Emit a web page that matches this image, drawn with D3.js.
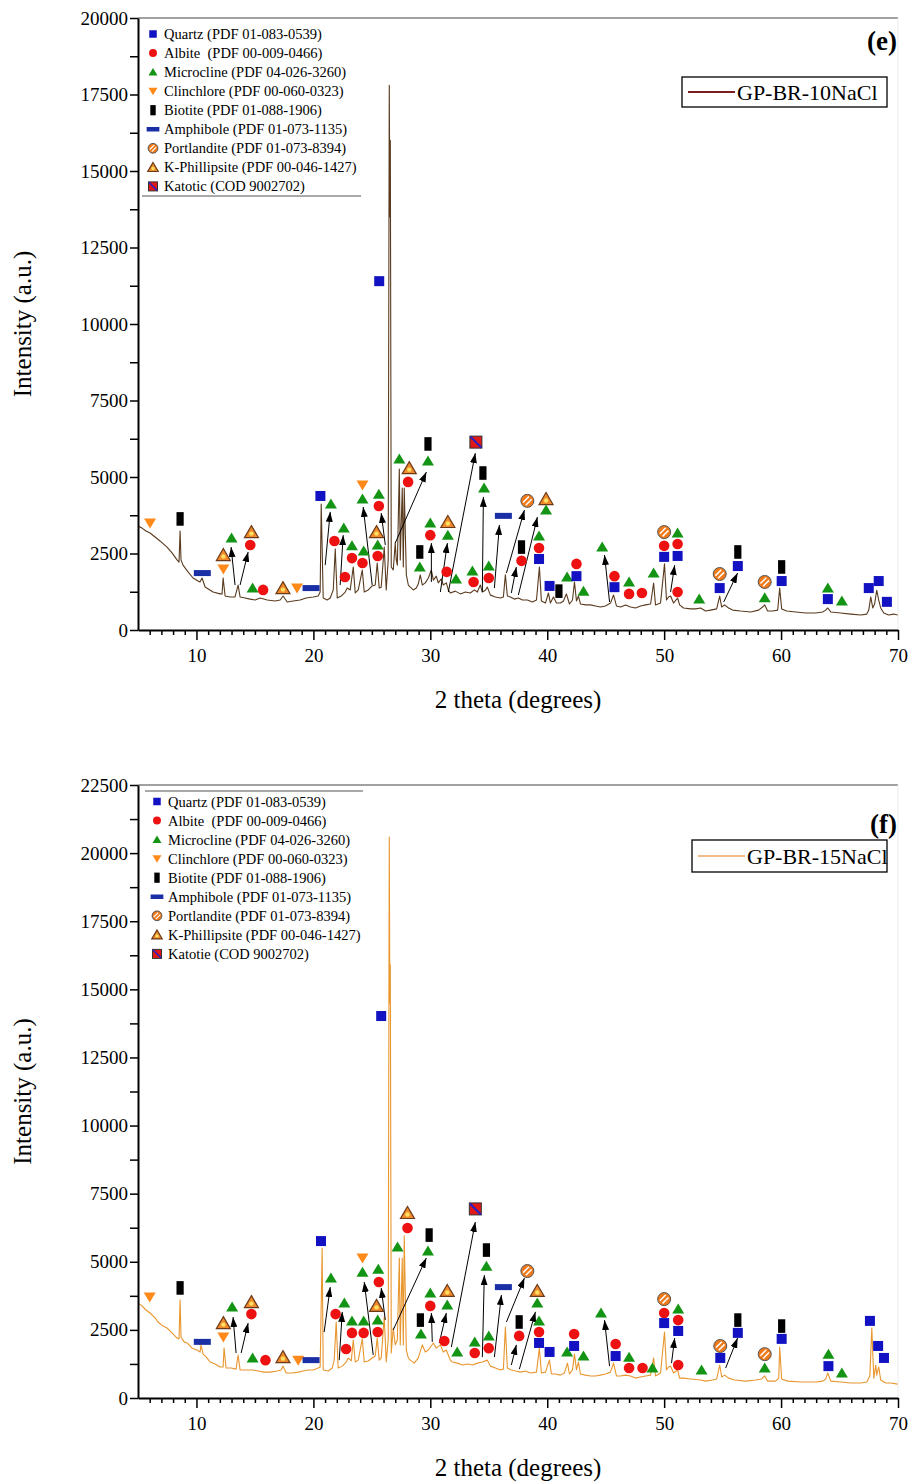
<!DOCTYPE html>
<html>
<head>
<meta charset="utf-8">
<script src="https://cdn.jsdelivr.net/npm/d3@7"></script>
<style>
  body { margin: 0; background: #fff; }
  svg { font-family: "Liberation Serif", "Times New Roman", serif; }
</style>
</head>
<body>
<div id="container"></div>
<script>
/* DATA */
const phaseKeys = ["quartz", "albite", "microcline", "clinochlore", "biotite", "amphibole", "portlandite", "kphillipsite", "katotie"];
const legendE = ["Quartz (PDF 01-083-0539)", "Albite  (PDF 00-009-0466)", "Microcline (PDF 04-026-3260)", "Clinchlore (PDF 00-060-0323)",
  "Biotite (PDF 01-088-1906)", "Amphibole (PDF 01-073-1135)", "Portlandite (PDF 01-073-8394)", "K-Phillipsite (PDF 00-046-1427)", "Katotic (COD 9002702)"];
const legendF = ["Quartz (PDF 01-083-0539)", "Albite  (PDF 00-009-0466)", "Microcline (PDF 04-026-3260)", "Clinchlore (PDF 00-060-0323)",
  "Biotite (PDF 01-088-1906)", "Amphibole (PDF 01-073-1135)", "Portlandite (PDF 01-073-8394)", "K-Phillipsite (PDF 00-046-1427)", "Katotie (COD 9002702)"];

const xTicks = [10, 20, 30, 40, 50, 60, 70];
const yTicksE = [0, 2500, 5000, 7500, 10000, 12500, 15000, 17500, 20000];
const yTicksF = [0, 2500, 5000, 7500, 10000, 12500, 15000, 17500, 20000, 22500];

// GP-BR-10NaCl pattern [2theta, intensity]
const patternE = [
  [5.0,3400],[5.34,3330],[5.68,3235],[6.03,3170],[6.46,3040],[6.88,2910],[7.48,2710],[7.91,2520],[8.34,2290],[8.51,2220],
  [8.6,3235],[8.68,2290],[8.85,2120],[9.28,1900],[9.71,1700],[10.14,1600],[10.3,1570],[10.48,1700],[10.74,1405],[11.42,1240],
  [12.02,1180],[12.19,1180],[12.28,1700],[12.45,1110],[12.88,1080],[13.3,1080],[13.56,1470],[13.73,1080],[14.16,1045],[14.59,1010],
  [15.02,980],[15.45,1045],[16.05,980],[16.73,950],[17.16,980],[17.41,1110],[17.76,915],[18.27,950],[18.87,980],[19.38,1045],
  [19.98,1080],[20.41,1110],[20.58,1240],[20.67,4120],[20.84,1045],[21.18,980],[21.44,1045],[21.7,1310],[21.87,2650],[22.04,1045],
  [22.38,1110],[22.72,1240],[22.9,1370],[23.15,1310],[23.41,2060],[23.58,1210],[23.84,1310],[24.18,1960],[24.35,1240],[24.69,1310],
  [25.03,1440],[25.29,1470],[25.46,2190],[25.63,1370],[25.8,1400],[26.06,2710],[26.23,1310],[26.4,2290],[26.49,17800],[26.54,13500],
  [26.58,16000],[26.66,2060],[26.83,1960],[27.0,2840],[27.09,2290],[27.18,2120],[27.35,5260],[27.43,2290],[27.6,4640],[27.69,2060],
  [27.77,4640],[27.95,1800],[28.12,1470],[28.29,1400],[28.55,1310],[28.8,1370],[28.97,1500],[29.14,1800],[29.32,1470],[29.57,1540],
  [29.83,1700],[30.09,1960],[30.26,1630],[30.51,1760],[30.68,1540],[30.94,1670],[31.11,1470],[31.37,1540],[31.54,1310],[31.71,1210],
  [32.14,1270],[32.57,1180],[33.0,1240],[33.42,1210],[33.77,1310],[34.02,1240],[34.28,1470],[34.45,1240],[34.71,1300],[34.88,1400],
  [35.14,1140],[35.57,1080],[36.0,1045],[36.25,1080],[36.42,1800],[36.59,1110],[36.85,1080],[37.19,1010],[37.53,1045],[37.88,980],
  [38.3,980],[38.73,915],[39.08,980],[39.33,2060],[39.5,950],[39.85,880],[40.1,1210],[40.27,880],[40.53,1080],[40.79,880],
  [41.13,880],[41.39,950],[41.64,1180],[41.9,850],[42.16,980],[42.33,1570],[42.5,950],[42.67,1110],[42.84,850],[43.27,820],
  [43.7,820],[44.13,785],[44.55,750],[44.98,785],[45.41,880],[45.67,1145],[45.92,785],[46.27,750],[46.7,820],[47.12,750],
  [47.55,720],[47.98,785],[48.41,820],[48.84,850],[49.1,1535],[49.26,820],[49.69,880],[50.03,2160],[50.2,980],[50.37,1080],
  [50.55,1110],[50.8,880],[51.15,1045],[51.32,820],[51.66,720],[52.26,690],[52.69,690],[53.12,720],[53.54,620],[53.97,650],
  [54.49,690],[54.75,1110],[54.92,750],[55.17,820],[55.51,720],[55.86,650],[56.54,620],[57.4,590],[58.08,650],[58.42,750],
  [58.6,820],[58.85,620],[59.28,620],[59.71,650],[59.88,1370],[60.05,690],[60.48,620],[61.25,590],[62.11,555],[62.96,555],
  [63.56,590],[63.82,650],[63.99,720],[64.25,590],[65.1,555],[65.96,520],[66.82,490],[67.33,520],[67.5,650],[67.67,1080],
  [67.84,720],[68.0,850],[68.18,1300],[68.35,980],[68.52,720],[68.78,555],[69.2,490],[69.63,520],[69.97,490]
];

// GP-BR-15NaCl pattern [2theta, intensity]
const patternF = [
  [5.0,3490],[5.34,3380],[5.68,3230],[6.03,3120],[6.46,2940],[6.71,2790],[7.14,2640],[7.48,2570],[7.91,2390],[8.34,2200],
  [8.51,2170],[8.6,3600],[8.68,2240],[8.94,2060],[9.2,2020],[9.62,1830],[10.05,1760],[10.31,1690],[10.39,1950],[10.57,1610],
  [10.9,1470],[11.16,1320],[11.59,1250],[12.02,1140],[12.28,1140],[12.36,1830],[12.53,1100],[12.96,1100],[13.39,1060],[13.56,1580],
  [13.73,1030],[14.16,1030],[14.76,1030],[15.27,990],[15.79,950],[16.3,950],[16.9,990],[17.24,1030],[17.41,1170],[17.67,920],
  [18.18,920],[18.7,950],[19.13,990],[19.55,1030],[19.98,1030],[20.41,1100],[20.58,1140],[20.75,5500],[20.84,1030],[21.27,990],
  [21.61,1100],[21.78,1390],[21.95,2790],[22.12,1100],[22.47,1170],[22.81,1320],[22.98,1470],[23.24,1360],[23.41,2130],[23.58,1320],
  [23.84,1390],[24.18,2170],[24.35,1320],[24.69,1360],[25.03,1470],[25.29,1540],[25.46,2200],[25.63,1390],[25.8,1470],[26.06,2970],
  [26.23,1320],[26.4,2130],[26.49,20590],[26.54,14500],[26.58,15900],[26.66,1650],[26.83,2570],[27.0,1950],[27.18,2130],[27.35,5140],
  [27.43,1950],[27.6,5140],[27.69,1950],[27.77,5950],[27.95,1760],[28.12,1470],[28.29,1390],[28.63,1280],[28.97,1470],[29.32,1950],
  [29.57,1690],[29.83,1760],[30.26,2020],[30.51,1830],[30.86,1950],[31.11,1690],[31.37,1760],[31.71,1390],[31.88,1320],[32.31,1280],
  [32.74,1210],[33.17,1250],[33.6,1210],[34.02,1280],[34.45,1320],[34.88,1390],[35.14,1170],[35.57,1100],[36.0,1030],[36.25,1060],
  [36.42,2600],[36.59,1100],[36.93,1030],[37.28,990],[37.71,950],[38.13,990],[38.56,920],[39.08,950],[39.33,1830],[39.5,920],
  [39.85,950],[40.19,1390],[40.36,880],[40.7,880],[41.13,840],[41.47,920],[41.73,1280],[41.9,880],[42.16,1030],[42.33,1610],
  [42.5,1030],[42.67,1320],[42.84,880],[43.27,840],[43.7,810],[44.13,810],[44.55,840],[44.98,880],[45.41,950],[45.67,1280],
  [45.92,810],[46.27,810],[46.7,840],[47.12,810],[47.55,730],[47.98,770],[48.41,810],[48.84,840],[49.1,1470],[49.26,810],
  [49.69,920],[50.03,2420],[50.2,1030],[50.37,1140],[50.55,1170],[50.8,920],[51.15,1030],[51.32,730],[51.66,730],[52.26,700],
  [53.12,660],[53.54,620],[54.14,660],[54.49,700],[54.75,1210],[54.92,770],[55.17,840],[55.51,730],[56.03,660],[56.97,620],
  [57.83,660],[58.34,700],[58.6,810],[58.85,620],[59.54,620],[59.8,730],[59.88,1870],[60.05,700],[60.57,620],[61.68,590],
  [62.96,590],[63.56,620],[63.82,700],[63.99,920],[64.25,620],[65.1,590],[65.96,550],[66.82,550],[67.33,590],[67.59,810],
  [67.76,2570],[67.93,730],[68.1,1210],[68.18,840],[68.35,1140],[68.52,660],[68.95,550],[69.38,550],[69.97,510]
];

// phase markers [phase, 2theta, intensity]
const marksE = [
  ["clinochlore",6.03,3500],["biotite",8.6,3630],["amphibole",10.5,1860],["kphillipsite",12.3,2450],["clinochlore",12.3,1990],
  ["microcline",13.0,3010],["kphillipsite",14.7,3200],["albite",14.6,2780],["microcline",14.8,1370],["albite",15.7,1310],
  ["kphillipsite",17.4,1370],["clinochlore",18.6,1370],["amphibole",19.8,1370],["quartz",20.6,4380],["microcline",21.5,4120],
  ["albite",21.8,2910],["microcline",22.6,3330],["albite",22.7,1730],["microcline",23.3,2750],["albite",23.3,2350],
  ["microcline",24.3,2580],["albite",24.2,2190],["clinochlore",24.2,4740],["microcline",24.2,4280],["microcline",25.6,4440],
  ["albite",25.6,4050],["kphillipsite",25.4,3200],["microcline",25.5,2780],["albite",25.5,2420],["quartz",25.63,11400],
  ["microcline",27.35,5590],["kphillipsite",28.2,5290],["albite",28.1,4840],["biotite",29.8,6080],["microcline",29.8,5520],
  ["biotite",29.1,2550],["microcline",29.1,2060],["microcline",30.0,3500],["albite",30.0,3100],["kphillipsite",31.5,3530],
  ["microcline",31.5,3100],["albite",31.4,1900],["microcline",32.2,1670],["katotie",33.9,6140],["microcline",33.6,1930],
  ["albite",33.7,1570],["biotite",34.5,5130],["microcline",34.6,4640],["microcline",35.0,2090],["albite",35.0,1700],
  ["amphibole",36.25,3730],["portlandite",38.3,4220],["kphillipsite",39.9,4280],["microcline",39.9,3920],["biotite",37.8,2710],
  ["albite",37.8,2260],["microcline",39.3,3070],["albite",39.3,2680],["quartz",39.3,2320],["quartz",40.2,1440],
  ["biotite",41.0,1270],["microcline",41.7,1730],["quartz",42.5,1760],["albite",42.5,2160],["microcline",43.1,1270],
  ["microcline",44.7,2710],["albite",45.75,1760],["quartz",45.75,1400],["microcline",47.0,1570],["albite",47.0,1180],
  ["albite",48.1,1210],["microcline",49.1,1860],["portlandite",50.0,3200],["albite",50.0,2750],["quartz",50.0,2390],
  ["microcline",51.15,3170],["albite",51.15,2810],["quartz",51.15,2420],["albite",51.15,1240],["microcline",53.0,1010],
  ["portlandite",54.75,1830],["quartz",54.75,1370],["biotite",56.3,2550],["quartz",56.3,2090],["portlandite",58.6,1570],
  ["microcline",58.6,1050],["biotite",60.05,2060],["quartz",60.05,1600],["microcline",64.0,1370],["quartz",64.0,1010],
  ["microcline",65.2,950],["quartz",67.5,1370],["quartz",68.35,1600],["quartz",69.05,920]
];
const marksF = [
  ["clinochlore",6.0,3710],["biotite",8.6,4040],["amphibole",10.5,2060],["kphillipsite",12.3,2750],["clinochlore",12.3,2240],
  ["microcline",13.05,3340],["kphillipsite",14.7,3520],["albite",14.7,3080],["microcline",14.8,1470],["albite",15.9,1390],
  ["kphillipsite",17.4,1500],["clinochlore",18.7,1390],["amphibole",19.8,1390],["quartz",20.65,5760],["microcline",21.5,4400],
  ["albite",21.9,3080],["microcline",22.65,3490],["albite",22.8,1800],["microcline",23.3,2830],["albite",23.3,2390],
  ["microcline",24.3,2830],["albite",24.3,2390],["clinochlore",24.2,5140],["microcline",24.2,4620],["microcline",25.55,4730],
  ["albite",25.6,4260],["kphillipsite",25.4,3380],["microcline",25.5,2860],["albite",25.5,2420],["quartz",25.8,14020],
  ["microcline",27.2,5540],["kphillipsite",28.05,6790],["albite",28.05,6240],["biotite",29.9,5980],["microcline",29.8,5400],
  ["biotite",29.15,2860],["microcline",29.2,2350],["microcline",30.0,3850],["albite",30.0,3380],["kphillipsite",31.45,3930],
  ["microcline",31.45,3410],["albite",31.2,2090],["microcline",32.3,1690],["katotie",33.85,6940],["microcline",33.8,2060],
  ["albite",33.8,1650],["biotite",34.8,5430],["microcline",34.8,4840],["microcline",35.0,2280],["albite",35.0,1830],
  ["amphibole",36.25,4070],["portlandite",38.3,4660],["kphillipsite",39.15,3930],["microcline",39.15,3490],["biotite",37.6,2790],
  ["albite",37.6,2280],["microcline",39.3,2830],["albite",39.3,2420],["quartz",39.3,2020],["quartz",40.2,1690],
  ["microcline",41.7,1690],["albite",42.3,2350],["quartz",42.3,1910],["microcline",43.1,1540],["microcline",44.6,3120],
  ["albite",45.85,1980],["quartz",45.85,1540],["microcline",47.0,1500],["albite",47.0,1100],["albite",48.15,1100],
  ["microcline",49.0,1100],["portlandite",50.0,3630],["albite",50.0,3120],["quartz",50.0,2750],["microcline",51.2,3270],
  ["albite",51.2,2860],["quartz",51.2,2460],["albite",51.2,1210],["microcline",53.2,1030],["portlandite",54.8,1910],
  ["quartz",54.8,1470],["biotite",56.3,2860],["quartz",56.3,2390],["portlandite",58.6,1610],["microcline",58.6,1100],
  ["biotite",60.05,2640],["quartz",60.05,2170],["microcline",64.05,1610],["quartz",64.05,1170],["microcline",65.2,920],
  ["quartz",67.6,2830],["quartz",68.3,1910],["quartz",68.8,1470]
];

// arrows [x1, y1, x2, y2] from peak to its label
const arrowsE = [
  [13.3,1470,12.96,2710],[13.73,1470,14.42,2550],[21.01,2120,21.44,3860],[22.29,1470,22.55,3100],[25.03,1470,24.26,4020],
  [26.15,2780,25.8,3820],[27.0,2840,29.66,5160],[30.09,1570,30.09,2840],[30.86,1240,31.46,2840],[31.54,1240,33.85,5780],
  [34.45,1240,34.54,4350],[35.48,1370,35.91,3430],[36.51,1860,38.05,3920],[37.53,1140,39.16,3690],[36.93,1210,37.36,2060],
  [45.33,915,44.9,2450],[50.55,1240,50.9,2120],[55.09,915,56.28,1860]
];
const arrowsF = [
  [13.39,1650,13.13,2970],[13.82,1650,14.42,2750],[20.92,2420,21.44,4070],[22.21,1390,22.47,3160],[25.12,1580,24.35,4260],
  [26.15,2860,25.8,4040],[26.83,2500,29.66,5140],[30.17,2060,30.09,3120],[30.77,2020,31.37,3120],[31.8,1870,33.85,6460],
  [34.45,1500,34.62,4510],[35.48,1500,36.08,3780],[36.51,2790,38.05,4400],[37.62,1060,38.99,3160],[36.93,1210,37.36,1950],
  [45.33,1170,44.9,2860],[50.63,1280,50.9,2200],[55.26,1100,56.28,2200]
];

/* CHART */
const width = 911, height = 1483;
const svg = d3.select('#container').append('svg')
  .attr('width', width).attr('height', height);

svg.append('defs').append('marker')
  .attr('id', 'arrowhead')
  .attr('viewBox', '0 0 10 7')
  .attr('refX', 10).attr('refY', 3.5)
  .attr('markerUnits', 'userSpaceOnUse')
  .attr('markerWidth', 10).attr('markerHeight', 7)
  .attr('orient', 'auto')
  .append('path').attr('d', 'M0,0 L10,3.5 L0,7 Z').attr('fill', '#000');

// draw one phase symbol centred on g
function drawSymbol(g, key, s) {
  if (key === 'quartz') {
    g.append('rect').attr('x', -5 * s).attr('y', -5 * s).attr('width', 10 * s).attr('height', 10 * s).attr('fill', '#1212c2');
  } else if (key === 'albite') {
    g.append('circle').attr('r', 5.3 * s).attr('fill', '#ee1111');
  } else if (key === 'microcline') {
    g.append('path').attr('d', `M0,${-5.5 * s} L${6 * s},${4.5 * s} L${-6 * s},${4.5 * s} Z`).attr('fill', '#149414');
  } else if (key === 'clinochlore') {
    g.append('path').attr('d', `M${-6 * s},${-4.5 * s} L${6 * s},${-4.5 * s} L0,${5.5 * s} Z`).attr('fill', '#ff8a1a');
  } else if (key === 'biotite') {
    g.append('rect').attr('x', -3.6 * s).attr('y', -6.8 * s).attr('width', 7.2 * s).attr('height', 13.6 * s).attr('fill', '#000');
  } else if (key === 'amphibole') {
    g.append('rect').attr('x', -8.5 * s).attr('y', -3 * s).attr('width', 17 * s).attr('height', 6 * s).attr('fill', '#1a2fa6');
  } else if (key === 'portlandite') {
    g.append('circle').attr('r', 6.5 * s).attr('fill', '#f07a1a').attr('stroke', '#555').attr('stroke-width', 1);
    g.append('line').attr('x1', -4.3 * s).attr('y1', 1.6 * s).attr('x2', 1.6 * s).attr('y2', -4.3 * s).attr('stroke', '#fff').attr('stroke-width', 1.5 * s);
    g.append('line').attr('x1', -1.6 * s).attr('y1', 4.3 * s).attr('x2', 4.3 * s).attr('y2', -1.6 * s).attr('stroke', '#fff').attr('stroke-width', 1.5 * s);
  } else if (key === 'kphillipsite') {
    g.append('path').attr('d', `M0,${-6.5 * s} L${7 * s},${5.5 * s} L${-7 * s},${5.5 * s} Z`)
      .attr('fill', '#f08a2a').attr('stroke', '#6b3a1a').attr('stroke-width', 1.2);
    g.append('circle').attr('cy', 1.5 * s).attr('r', 2.2 * s).attr('fill', '#ffe060');
  } else if (key === 'katotie') {
    g.append('rect').attr('x', -6 * s).attr('y', -6 * s).attr('width', 12 * s).attr('height', 12 * s)
      .attr('fill', '#e01818').attr('stroke', '#333').attr('stroke-width', 1);
    g.append('line').attr('x1', -5.5 * s).attr('y1', -5.5 * s).attr('x2', 5.5 * s).attr('y2', 5.5 * s).attr('stroke', '#2222c8').attr('stroke-width', 2 * s);
  }
}

const x = d3.scaleLinear().domain([5, 70]).range([138, 898]);

function drawPanel(p) {
  const y = d3.scaleLinear().domain([0, p.yMax]).range([p.bottom, p.top]);
  const g = svg.append('g');

  // frame: top line and faint right edge
  g.append('line').attr('x1', 138).attr('x2', 898).attr('y1', p.top).attr('y2', p.top)
    .attr('stroke', '#444').attr('stroke-width', 1.2);
  g.append('line').attr('x1', 898).attr('x2', 898).attr('y1', p.top).attr('y2', p.bottom)
    .attr('stroke', '#ececec').attr('stroke-width', 1);

  // pattern
  const line = d3.line().x(d => x(d[0])).y(d => y(d[1]));
  g.append('path').datum(p.pattern)
    .attr('d', line)
    .attr('fill', 'none')
    .attr('stroke', p.color)
    .attr('stroke-width', 1.1)
    .attr('stroke-linejoin', 'round');

  // arrows
  g.selectAll('.arrow')
    .data(p.arrows)
    .join('line')
    .attr('class', 'arrow')
    .attr('x1', d => x(d[0])).attr('y1', d => y(d[1]))
    .attr('x2', d => x(d[2])).attr('y2', d => y(d[3]))
    .attr('stroke', '#000').attr('stroke-width', 1)
    .attr('marker-end', 'url(#arrowhead)');

  // phase markers
  p.marks.forEach(m => {
    drawSymbol(g.append('g').attr('transform', `translate(${x(m[1])},${y(m[2])})`), m[0], 1);
  });

  // y axis
  const yMinor = p.yTicks.slice(1).map(v => v - 1250);
  const yAx = g.append('g').attr('transform', 'translate(138,0)')
    .call(d3.axisLeft(y).tickValues(p.yTicks).tickSize(8).tickSizeOuter(0).tickPadding(2).tickFormat(d3.format('d')));
  g.append('g').attr('transform', 'translate(138,0)')
    .call(d3.axisLeft(y).tickValues(yMinor).tickSize(8).tickSizeOuter(0).tickFormat(''))
    .select('.domain').remove();

  // x axis
  const xMinor = d3.range(6, 70).filter(v => v % 10 !== 0);
  const xAx = g.append('g').attr('transform', `translate(0,${p.bottom})`)
    .call(d3.axisBottom(x).tickValues(xTicks).tickSize(10).tickSizeOuter(0).tickPadding(9));
  g.append('g').attr('transform', `translate(0,${p.bottom})`)
    .call(d3.axisBottom(x).tickValues(xMinor).tickSize(5).tickSizeOuter(0).tickFormat(''))
    .select('.domain').remove();

  g.selectAll('.domain').attr('stroke', '#000').attr('stroke-width', 2);
  g.selectAll('.tick line').attr('stroke', '#000').attr('stroke-width', 1.5);
  [yAx, xAx].forEach(a => a.attr('font-family', '"Liberation Serif", serif').attr('font-size', 19)
    .selectAll('text').attr('fill', '#000'));

  // axis titles
  svg.append('text')
    .attr('x', 518).attr('y', p.bottom + 78)
    .attr('text-anchor', 'middle')
    .attr('font-size', 25)
    .text('2 theta (degrees)');
  svg.append('text')
    .attr('transform', `translate(31,${(p.top + p.bottom) / 2}) rotate(-90)`)
    .attr('text-anchor', 'middle')
    .attr('font-size', 25)
    .text('Intensity (a.u.)');

  // panel letter
  svg.append('text')
    .attr('x', 897).attr('y', p.top + p.letterDy)
    .attr('text-anchor', 'end')
    .attr('font-size', 27).attr('font-weight', 'bold')
    .text(p.letter);

  // phase legend
  const lg = svg.append('g');
  p.legend.forEach((label, i) => {
    const cy = p.legendTop + i * 19.05;
    drawSymbol(lg.append('g').attr('transform', `translate(${p.legendX},${cy})`), phaseKeys[i], 0.75);
    lg.append('text')
      .attr('x', p.legendX + 11).attr('y', cy + 5)
      .attr('font-size', 14.5)
      .style('white-space', 'pre')
      .text(label);
  });
  lg.append('line')
    .attr('x1', p.legendLine[0]).attr('x2', p.legendLine[1])
    .attr('y1', p.legendLine[2]).attr('y2', p.legendLine[2])
    .attr('stroke', '#555').attr('stroke-width', 1.2);

  // sample legend box
  const b = p.box;
  svg.append('rect').attr('x', b[0]).attr('y', b[1]).attr('width', b[2]).attr('height', b[3])
    .attr('fill', '#fff').attr('stroke', '#000').attr('stroke-width', 1.3);
  svg.append('line').attr('x1', b[0] + 6).attr('x2', b[0] + 53)
    .attr('y1', b[1] + b[3] / 2).attr('y2', b[1] + b[3] / 2)
    .attr('stroke', p.boxColor).attr('stroke-width', 2);
  svg.append('text').attr('x', b[0] + 55).attr('y', b[1] + b[3] / 2 + 8)
    .attr('font-size', 22)
    .text(p.sample);
}

drawPanel({
  top: 18, bottom: 630, yMax: 20000, yTicks: yTicksE,
  pattern: patternE, marks: marksE, arrows: arrowsE, color: '#5a3b1f',
  letter: '(e)', letterDy: 32,
  legend: legendE, legendX: 153, legendTop: 34, legendLine: [142, 361, 196],
  box: [682, 77, 205, 30], boxColor: '#7a1f1f', sample: 'GP-BR-10NaCl'
});

drawPanel({
  top: 785, bottom: 1398, yMax: 22500, yTicks: yTicksF,
  pattern: patternF, marks: marksF, arrows: arrowsF, color: '#e8962e',
  letter: '(f)', letterDy: 48,
  legend: legendF, legendX: 157, legendTop: 801.5, legendLine: [145, 363, 791],
  box: [692, 840, 195, 32], boxColor: '#f2b98a', sample: 'GP-BR-15NaCl'
});
</script>
</body>
</html>
